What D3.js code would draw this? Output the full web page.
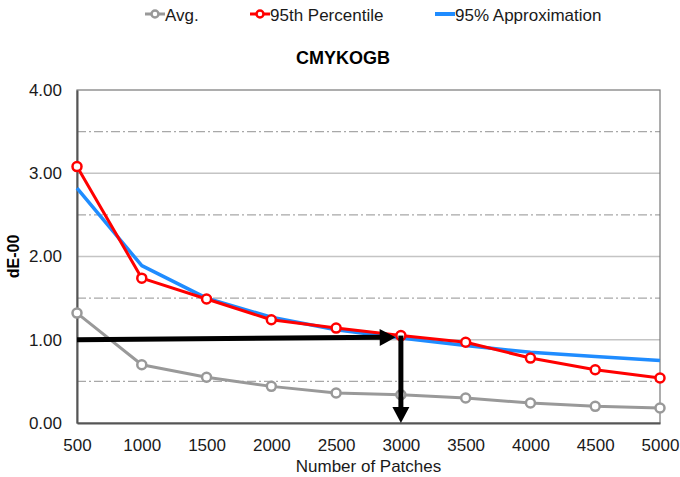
<!DOCTYPE html>
<html>
<head>
<meta charset="utf-8">
<script src="https://cdn.jsdelivr.net/npm/d3@7"></script>
<style>
  body { margin: 0; background: #fff; }
  svg { display: block; font-family: "Liberation Sans", Arial, sans-serif; }
</style>
</head>
<body>
<svg width="680" height="477"></svg>
<script>
// data
const patches = [500, 1000, 1500, 2000, 2500, 3000, 3500, 4000, 4500, 5000];
const avg = [1.32, 0.70, 0.55, 0.44, 0.36, 0.34, 0.30, 0.24, 0.20, 0.18];
const p95 = [3.08, 1.74, 1.49, 1.24, 1.14, 1.05, 0.97, 0.78, 0.64, 0.54];
const approx95 = [2.82, 1.89, 1.50, 1.27, 1.12, 1.02, 0.93, 0.85, 0.80, 0.75];
const yTicks = [0, 1, 2, 3, 4];
const yHalfTicks = [0.5, 1.5, 2.5, 3.5];
// annotation arrows (data coordinates)
const arrowAcross = [[500, 1.0], [2960, 1.03]];
const arrowDown = [[3000, 1.05], [3000, 0]];

const svg = d3.select("svg");
const margin = {top: 90, right: 20, bottom: 54, left: 77};
const width = +svg.attr("width");
const height = +svg.attr("height");

const x = d3.scaleLinear().domain([500, 5000]).range([margin.left, width - margin.right]);
const y = d3.scaleLinear().domain([0, 4]).range([height - margin.bottom, margin.top]);

// gridlines
svg.append("g").selectAll("line")
    .data(yTicks.slice(1, -1))
    .enter().append("line")
    .attr("x1", x(500)).attr("x2", x(5000))
    .attr("y1", d => y(d)).attr("y2", d => y(d))
    .style("stroke", "#c4c4c4").style("stroke-width", 1.5);

svg.append("g").selectAll("line")
    .data(yHalfTicks)
    .enter().append("line")
    .attr("x1", x(500)).attr("x2", x(5000))
    .attr("y1", d => y(d)).attr("y2", d => y(d))
    .style("stroke", "#a8a8a8").style("stroke-width", 1.2)
    .style("stroke-dasharray", "9,3,2,3");

// plot frame
svg.append("rect")
    .attr("x", x(500)).attr("y", y(4))
    .attr("width", x(5000) - x(500)).attr("height", y(0) - y(4))
    .style("fill", "none").style("stroke", "#777").style("stroke-width", 1.2);

// axes
const yAxis = svg.append("g")
    .attr("transform", `translate(${x(500)},0)`)
    .call(d3.axisLeft(y).tickValues(yTicks).tickSize(0).tickPadding(15).tickFormat(d3.format(".2f")));
const xAxis = svg.append("g")
    .attr("transform", `translate(0,${y(0)})`)
    .call(d3.axisBottom(x).tickValues(patches).tickSize(0).tickPadding(16).tickFormat(d3.format("d")));
[yAxis, xAxis].forEach(a => {
    a.select(".domain").style("stroke", "#555").style("stroke-width", 2);
    a.selectAll("text").style("font-size", "17px").style("fill", "#1a1a1a")
        .style("font-family", "'Liberation Sans', Arial, sans-serif");
});

// series
const series = [
    {name: "Avg.", values: avg, color: "#999999", width: 3, marker: true},
    {name: "95th Percentile", values: p95, color: "#ff0000", width: 3, marker: true},
    {name: "95% Approximation", values: approx95, color: "#1f8cff", width: 3.5, marker: false}
];

const line = d3.line().x(d => x(d[0])).y(d => y(d[1]));

// draw blue under red so red markers sit on top where they cross
[series[0], series[2], series[1]].forEach(s => {
    const pts = patches.map((p, i) => [p, s.values[i]]);
    svg.append("path")
        .datum(pts)
        .attr("d", line)
        .style("fill", "none")
        .style("stroke", s.color)
        .style("stroke-width", s.width)
        .style("stroke-linejoin", "round");
    if (s.marker) {
        svg.append("g").selectAll("circle")
            .data(pts)
            .enter().append("circle")
            .attr("cx", d => x(d[0]))
            .attr("cy", d => y(d[1]))
            .attr("r", 4.5)
            .style("fill", "#fff")
            .style("stroke", s.color)
            .style("stroke-width", 2.5);
    }
});

// black arrows
function drawArrow(pts) {
    const x0 = x(pts[0][0]), y0 = y(pts[0][1]);
    const x1 = x(pts[1][0]), y1 = y(pts[1][1]);
    const ang = Math.atan2(y1 - y0, x1 - x0);
    const headLen = 16, headHalf = 8.5;
    const bx = x1 - headLen * Math.cos(ang), by = y1 - headLen * Math.sin(ang);
    svg.append("line")
        .attr("x1", x0).attr("y1", y0).attr("x2", bx + 2 * Math.cos(ang)).attr("y2", by + 2 * Math.sin(ang))
        .style("stroke", "#000").style("stroke-width", 5);
    const px = -Math.sin(ang), py = Math.cos(ang);
    svg.append("path")
        .attr("d", `M${x1},${y1}L${bx + px * headHalf},${by + py * headHalf}L${bx - px * headHalf},${by - py * headHalf}Z`)
        .style("fill", "#000");
}
drawArrow(arrowAcross);
drawArrow(arrowDown);

// title and axis labels
svg.append("text")
    .attr("x", 343).attr("y", 64)
    .attr("text-anchor", "middle")
    .style("font-size", "18px").style("font-weight", "bold")
    .text("CMYKOGB");

svg.append("text")
    .attr("transform", `translate(19,${y(2)}) rotate(-90)`)
    .attr("text-anchor", "middle")
    .style("font-size", "16px").style("font-weight", "bold")
    .text("dE-00");

svg.append("text")
    .attr("x", (x(500) + x(5000)) / 2).attr("y", 472)
    .attr("text-anchor", "middle")
    .style("font-size", "17px").style("fill", "#1a1a1a")
    .text("Number of Patches");

// legend
const legendX = [145, 250, 435];
const legend = svg.append("g").selectAll("g")
    .data(series)
    .enter().append("g")
    .attr("transform", (d, i) => `translate(${legendX[i]},14)`);
legend.append("line")
    .attr("x1", 0).attr("x2", 20)
    .style("stroke", d => d.color).style("stroke-width", d => d.marker ? 3 : 4);
legend.filter(d => d.marker).append("circle")
    .attr("cx", 10).attr("r", 3.5)
    .style("fill", "#fff").style("stroke", d => d.color).style("stroke-width", 2.5);
legend.append("text")
    .attr("x", 20).attr("y", 7)
    .style("font-size", "17px").style("fill", "#1a1a1a")
    .text(d => d.name);
</script>
</body>
</html>
